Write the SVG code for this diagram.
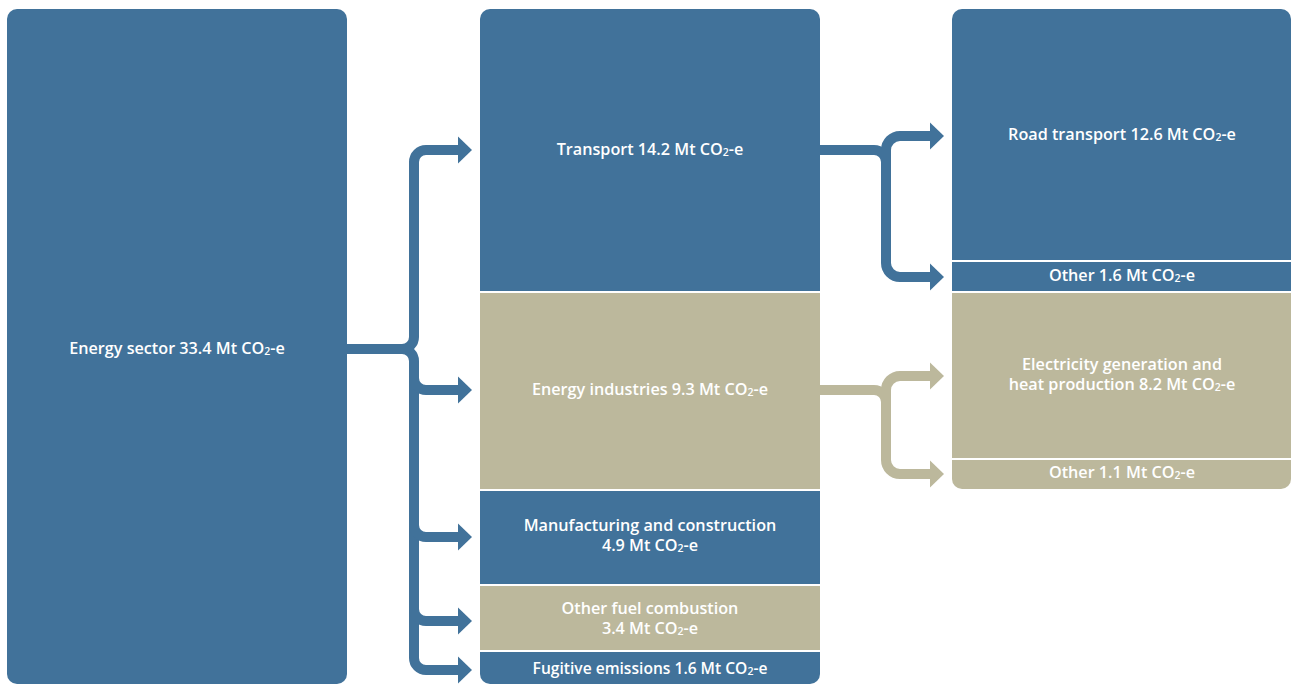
<svg xmlns="http://www.w3.org/2000/svg" width="1291" height="684" viewBox="0 0 1291 684">
<style>
.b{fill:#41729a}
.t{fill:#bcb89c}
.lbl{font-family:"Open Sans","Liberation Sans",sans-serif;font-weight:600;font-size:16.2px;fill:#ffffff;text-anchor:middle}
.sub{font-size:10.5px}
.cb{fill:none;stroke:#41729a;stroke-width:10}
.ct{fill:none;stroke:#bcb89c;stroke-width:10}
</style>
<defs>
<clipPath id="cm"><rect x="480" y="9" width="340" height="675" rx="10"/></clipPath>
<clipPath id="cr"><rect x="952" y="9" width="339" height="480" rx="10"/></clipPath>
<path id="ah" d="M0,-13.5 L14,0 L0,13.5 Z"/>
</defs>
<rect width="1291" height="684" fill="#ffffff"/>
<g id="energy-sector">
<rect class="b" x="7" y="9" width="340" height="675" rx="10"/>
<text class="lbl" x="177" y="354">Energy sector 33.4 Mt CO<tspan class="sub" dy="1">2</tspan><tspan dy="-1">-e</tspan></text>
</g>
<g clip-path="url(#cm)">
<g id="transport">
<rect class="b" x="480" y="9" width="340" height="282"/>
<text class="lbl" x="650" y="155">Transport 14.2 Mt CO<tspan class="sub" dy="1">2</tspan><tspan dy="-1">-e</tspan></text>
</g>
<g id="energy-industries">
<rect class="t" x="480" y="293" width="340" height="196"/>
<text class="lbl" x="650" y="395">Energy industries 9.3 Mt CO<tspan class="sub" dy="1">2</tspan><tspan dy="-1">-e</tspan></text>
</g>
<g id="manufacturing">
<rect class="b" x="480" y="491" width="340" height="93"/>
<text class="lbl" x="650" y="531">Manufacturing and construction</text>
<text class="lbl" x="650" y="551">4.9 Mt CO<tspan class="sub" dy="1">2</tspan><tspan dy="-1">-e</tspan></text>
</g>
<g id="other-fuel">
<rect class="t" x="480" y="586" width="340" height="64"/>
<text class="lbl" x="650" y="614">Other fuel combustion</text>
<text class="lbl" x="650" y="634">3.4 Mt CO<tspan class="sub" dy="1">2</tspan><tspan dy="-1">-e</tspan></text>
</g>
<g id="fugitive">
<rect class="b" x="480" y="652" width="340" height="32"/>
<text class="lbl" x="650" y="674" style="font-size:15.6px">Fugitive emissions 1.6 Mt CO<tspan class="sub" dy="1">2</tspan><tspan dy="-1">-e</tspan></text>
</g>
</g>
<g clip-path="url(#cr)">
<g id="road-transport">
<rect class="b" x="952" y="9" width="339" height="251"/>
<text class="lbl" x="1122" y="140">Road transport 12.6 Mt CO<tspan class="sub" dy="1">2</tspan><tspan dy="-1">-e</tspan></text>
</g>
<g id="transport-other">
<rect class="b" x="952" y="262" width="339" height="29"/>
<text class="lbl" x="1122" y="281">Other 1.6 Mt CO<tspan class="sub" dy="1">2</tspan><tspan dy="-1">-e</tspan></text>
</g>
<g id="electricity">
<rect class="t" x="952" y="293" width="339" height="165"/>
<text class="lbl" x="1122" y="370">Electricity generation and</text>
<text class="lbl" x="1122" y="390">heat production 8.2 Mt CO<tspan class="sub" dy="1">2</tspan><tspan dy="-1">-e</tspan></text>
</g>
<g id="energy-other">
<rect class="t" x="952" y="460" width="339" height="29"/>
<text class="lbl" x="1122" y="478">Other 1.1 Mt CO<tspan class="sub" dy="1">2</tspan><tspan dy="-1">-e</tspan></text>
</g>
</g>
<g id="connectors">
<path class="cb" d="M347,349 H402 A12,12 0 0 0 414,337 V162 A12,12 0 0 1 426,150 H460"/>
<path class="cb" d="M402,349 A12,12 0 0 1 414,361 V658 A12,12 0 0 0 426,670 H460"/>
<path class="cb" d="M414,378 A12,12 0 0 0 426,390 H460"/>
<path class="cb" d="M414,525 A12,12 0 0 0 426,537 H460"/>
<path class="cb" d="M414,609 A12,12 0 0 0 426,621 H460"/>
<use href="#ah" x="458" y="150" fill="#41729a"/>
<use href="#ah" x="458" y="390" fill="#41729a"/>
<use href="#ah" x="458" y="537" fill="#41729a"/>
<use href="#ah" x="458" y="621" fill="#41729a"/>
<use href="#ah" x="458" y="670" fill="#41729a"/>
<path class="cb" d="M820,150 H874 A12,12 0 0 1 886,162"/>
<path class="cb" d="M886,170 V150 A14,14 0 0 1 900,136 H932"/>
<path class="cb" d="M886,150 V263 A14,14 0 0 0 900,277 H932"/>
<use href="#ah" x="930" y="136" fill="#41729a"/>
<use href="#ah" x="930" y="277" fill="#41729a"/>
<path class="ct" d="M820,390 H874 A12,12 0 0 1 886,402"/>
<path class="ct" d="M886,410 V390 A14,14 0 0 1 900,376 H932"/>
<path class="ct" d="M886,390 V460 A14,14 0 0 0 900,474 H932"/>
<use href="#ah" x="930" y="376" fill="#bcb89c"/>
<use href="#ah" x="930" y="474" fill="#bcb89c"/>
</g>
</svg>
